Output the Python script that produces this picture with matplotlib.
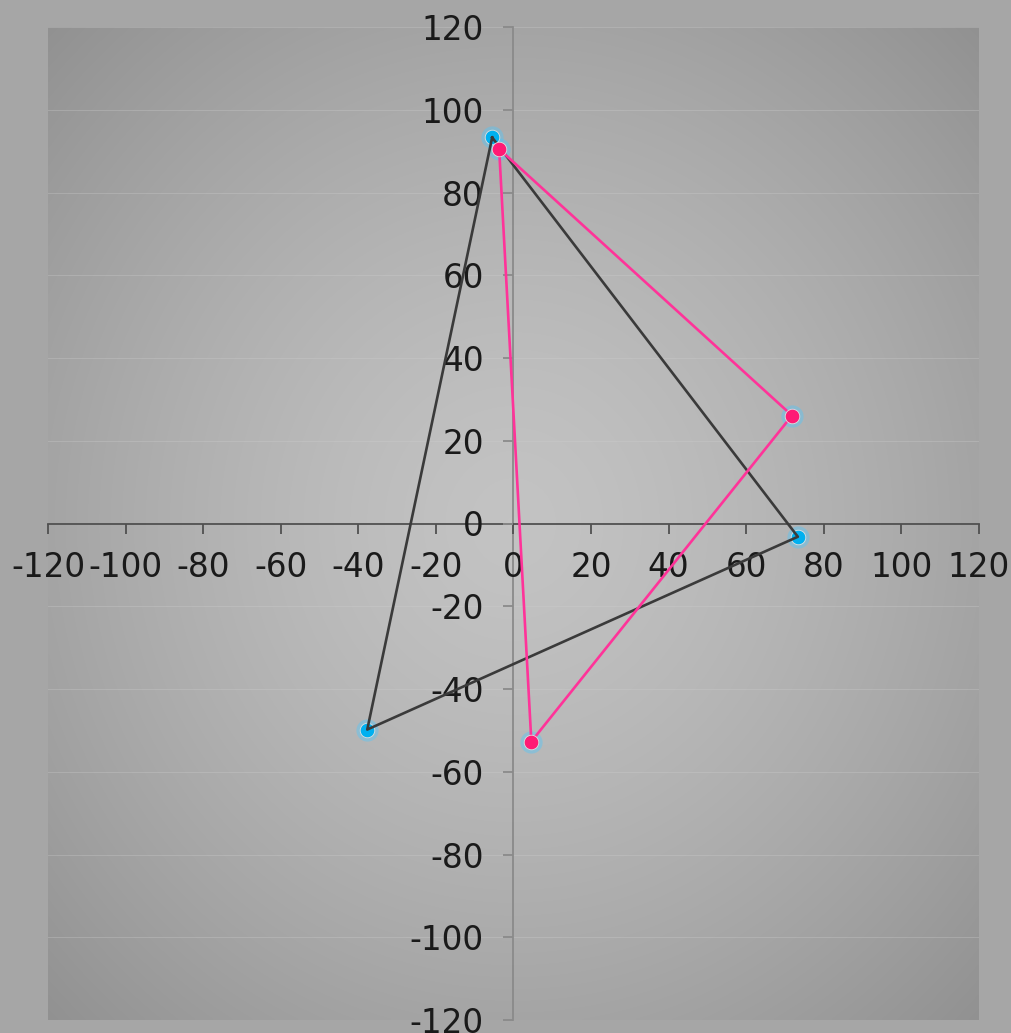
import numpy as np
import matplotlib
matplotlib.use("Agg")
import matplotlib.pyplot as plt

plt.rcParams['axes.unicode_minus'] = False

# Data
s1_x = [-5.5, 73.3, -37.7, -5.5]
s1_y = [93.3, -3.2, -49.8, 93.3]
s2_x = [-3.7, 71.8, 4.6, -3.7]
s2_y = [90.5, 26.1, -52.7, 90.5]
ticks = list(range(-120, 121, 20))

fig = plt.figure(figsize=(10.12, 10.33), dpi=100)
fig.patch.set_facecolor('#a6a6a6')
ax = fig.add_axes([48/1012, 1-1020/1033, 931/1012, 993/1033])
ax.set_xlim(-120, 120)
ax.set_ylim(-120, 120)

# radial gradient background
n = 400
gx, gy = np.meshgrid(np.linspace(-1, 1, n), np.linspace(-1, 1, n))
r = np.sqrt(gx**2 + gy**2) / np.sqrt(2)
c_in, c_out = 0.765, 0.57
val = c_in + (c_out - c_in) * r**1.4
img = np.dstack([val, val, val])
ax.imshow(img, extent=[-120, 120, -120, 120], aspect='auto', zorder=0, interpolation='bilinear')

# faint horizontal gridlines
for t in ticks:
    ax.axhline(t, color='#d0d0d0', lw=0.8, alpha=0.3, zorder=0.5)

for s in ['top', 'right']:
    ax.spines[s].set_visible(False)
ax.spines['left'].set_position('zero')
ax.spines['bottom'].set_position('zero')
ax.spines['left'].set_color('#8a8a8a')
ax.spines['bottom'].set_color('#505050')
ax.spines['left'].set_linewidth(1.3)
ax.spines['bottom'].set_linewidth(1.3)
ax.spines['left'].set_zorder(1)
ax.spines['bottom'].set_zorder(1)
ax.set_xticks(ticks)
ax.set_yticks(ticks)
ax.tick_params(axis='x', direction='out', length=7, width=1.3, color='#505050',
               labelsize=23.5, labelcolor='#1a1a1a', pad=13)
ax.tick_params(axis='y', direction='out', length=7.5, width=1.3, color='#8a8a8a',
               labelsize=23.5, labelcolor='#1a1a1a', pad=14)
for lab in ax.get_xticklabels() + ax.get_yticklabels():
    lab.set_fontfamily('DejaVu Sans')

# markers glow
ax.plot(s1_x[:-1], s1_y[:-1], 'o', ms=16, color='#4cc8ff', alpha=0.4, mec='none', zorder=2)
ax.plot(s2_x[:-1], s2_y[:-1], 'o', ms=16, color='#4cc8ff', alpha=0.4, mec='none', zorder=2)
ax.plot(s1_x[:-1], s1_y[:-1], 'o', ms=10.5, color='#00b0f0', mec='#e0e0e0', mew=0.6, zorder=2.5)
ax.plot(s1_x, s1_y, '-', color='#3a3a3a', lw=1.9, zorder=3)
ax.plot(s2_x, s2_y, '-', color='#ff3399', lw=1.9, zorder=4)
ax.plot(s2_x[:-1], s2_y[:-1], 'o', ms=10.5, color='#ff1a75', mec='#e0e0e0', mew=0.6, zorder=5)

fig.savefig('out.png', dpi=100, facecolor=fig.get_facecolor())
